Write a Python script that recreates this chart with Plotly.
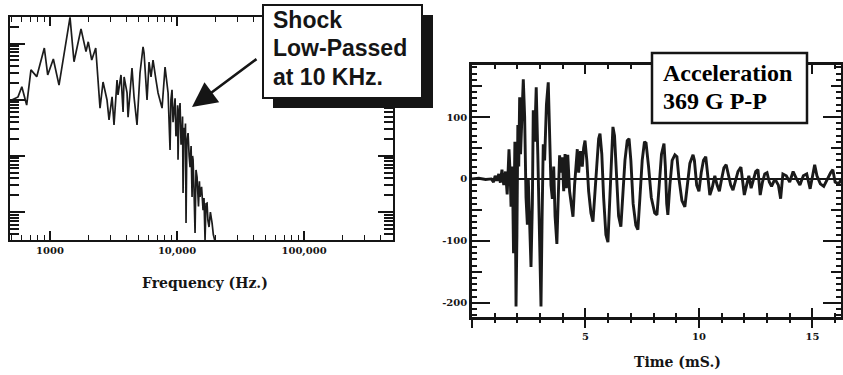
import plotly.graph_objects as go

# ---------------- data ----------------
# Left: shock spectrum (frequency in Hz, level in dB re 1)
freq_hz = [500, 560, 600, 655, 708, 786, 902, 959, 1062, 1177, 1437, 1545, 1754, 1920,
           2000, 2130, 2290, 2476, 2615, 2810, 2915, 3080, 3190, 3370, 3430, 3620, 3760,
           3830, 4040, 4115, 4420, 4585, 4840, 5110, 5400, 5500, 5805, 6020, 6240, 6470,
           6830, 7090, 7620, 8045, 8500, 8810, 8950, 9130, 9300, 9470, 9650, 9800, 10000,
           10100, 10180, 10350, 10560, 10750, 10950, 11050, 11150, 11350, 11560, 11650,
           11770, 11950, 12210, 12450, 12660, 12900, 13130, 13250, 13370, 13600, 13860,
           14100, 14370, 14750, 15000, 15180, 15600, 16020, 16300, 16610, 16900, 17230,
           17500, 17860, 18300, 18870, 19300, 19920, 21000]
level_db = [-20.1, -19.0, -15.4, -21.9, -9.4, -11.8, -1.6, -11.2, -5.5, -14.8, 9.3, -6.5,
            5.2, -2.9, 0.6, -5.9, -1.6, -23.0, -13.7, -20.1, -27.2, -19.0, -29.0, -13.0,
            -18.3, -11.2, -24.4, -11.9, -17.6, -26.2, -8.7, -19.0, -29.0, -10.5, -1.2,
            -3.4, -20.1, -6.6, -11.9, -5.9, -13.0, -17.6, -23.0, -8.4, -17.6, -37.9, -20.0,
            -16.5, -28.0, -23.7, -19.5, -33.0, -30.8, -22.0, -41.4, -25.0, -21.2, -36.0,
            -31.9, -26.0, -53.2, -30.0, -33.3, -28.5, -63.9, -35.0, -31.9, -40.0, -44.0,
            -36.5, -54.6, -40.0, -41.4, -52.0, -67.4, -45.0, -47.5, -58.0, -49.0, -54.6,
            -51.0, -59.3, -55.0, -70.0, -57.0, -56.8, -63.0, -65.3, -60.0, -63.9, -68.0,
            -70.5, -76.0]
spec_level = [10 ** (d / 20.0) for d in level_db]

# Right: acceleration time history (ms, g)
time_ms = [0.00, 0.30, 0.60, 0.85, 0.95, 1.02, 1.10, 1.18, 1.25, 1.32, 1.40, 1.48, 1.55,
           1.63, 1.68, 1.72, 1.78, 1.83, 1.89, 1.94, 1.98, 2.02, 2.06, 2.10, 2.14, 2.20,
           2.26, 2.32, 2.38, 2.44, 2.48, 2.53, 2.60, 2.66, 2.70, 2.76, 2.83, 2.90, 2.95,
           3.00, 3.04, 3.09, 3.14, 3.20, 3.28, 3.36, 3.42, 3.48, 3.54, 3.60, 3.66, 3.74,
           3.80, 3.86, 3.92, 3.98, 4.04, 4.10, 4.16, 4.22, 4.30, 4.38, 4.45, 4.52, 4.58,
           4.64, 4.70, 4.78, 4.86, 4.92, 4.98, 5.06, 5.14, 5.24, 5.33, 5.42, 5.50, 5.58,
           5.64, 5.72, 5.80, 5.90, 5.99, 6.07, 6.14, 6.21, 6.28, 6.36, 6.46, 6.56, 6.64,
           6.74, 6.84, 6.92, 7.00, 7.10, 7.22, 7.31, 7.40, 7.50, 7.60, 7.67, 7.78, 7.90,
           8.05, 8.15, 8.25, 8.35, 8.46, 8.52, 8.58, 8.63, 8.72, 8.82, 8.94, 9.03, 9.12,
           9.25, 9.38, 9.48, 9.60, 9.74, 9.80, 9.90, 10.00, 10.10, 10.20, 10.30, 10.38,
           10.48, 10.58, 10.70, 10.80, 10.90, 11.00, 11.10, 11.20, 11.30, 11.40, 11.50,
           11.60, 11.72, 11.85, 11.92, 12.00, 12.10, 12.20, 12.30, 12.40, 12.50, 12.60,
           12.70, 12.80, 12.90, 13.00, 13.10, 13.20, 13.35, 13.50, 13.60, 13.70, 13.85,
           14.00, 14.15, 14.30, 14.45, 14.60, 14.75, 14.90, 15.00, 15.10, 15.20, 15.35,
           15.50, 15.65, 15.80, 15.90, 16.00, 16.15, 16.30]
accel_g = [0, 1, -1, 0, -5, 5, -3, 8, -6, 15, -10, 12, -25,
           48, 10, -45, 20, -120, 60, -206, -90, 87, 20, 132, 40, 120,
           161, 100, -30, -74, 0, -60, -142, -40, 111, 60, 148, 40, -60,
           -150, -206, -60, 56, 30, 120, 156, 60, -10, -32, 20, -60, -105,
           -30, 38, 10, 35, -20, 40, -15, 39, -20, -40, -61, -10, 30,
           48, 10, 45, 20, 50, 62, 30, -20, -55, -69, -20, 30, 65,
           73, 40, -30, -90, -102, -40, 40, 84, 70, 10, -60, -77, -30,
           30, 62, 65, 30, -40, -75, -82, -30, 30, 60, 58, 20, -30,
           -55, -58, -10, 40, 57, 20, -40, -58, -10, 30, 39, 36, 0,
           -35, -45, -10, 25, 39, 30, -10, -20, 10, 30, 36, 10,
           -26, -15, 5, -10, -20, 0, 18, 23, 5, -10, -18,
           -5, 12, 19, 0, -26, -10, 5, -15, 0, 12, 15,
           -26, -5, 8, 10, -5, -12, 0, -10, -32, 8, 5,
           -5, 12, 0, -10, 5, 8, -16, 5, 23, 5, -8,
           -12, 0, 10, 15, -5, -8, 0]

freq_tick_alias = {"1,000": "1000"}
time_tick_alias = {"0": ""}
accel_tickvals = [-200, -100, 0, 100]
accel_ticktext = ["-200", "-100", "0", "100"]

# ---------------- layout helpers (pixel -> paper) ----------------
W, H = 843, 375


def px(x):
    return x / W


def py(y):
    return 1 - y / H


INK = "#151515"
SERIF = "DejaVu Serif"
SANS = "Liberation Sans"
TIMES = "Liberation Serif"

fig = go.Figure()

fig.add_trace(go.Scatter(x=freq_hz, y=spec_level, mode="lines",
                         line=dict(color="#1c1c1c", width=1.7),
                         xaxis="x", yaxis="y", showlegend=False, hoverinfo="skip"))
fig.add_trace(go.Scatter(x=time_ms, y=accel_g, mode="lines",
                         line=dict(color="#1a1a1a", width=2.9),
                         xaxis="x2", yaxis="y2", showlegend=False, hoverinfo="skip"))
# empty traces to register the overlay axes
fig.add_trace(go.Scatter(x=[None], y=[None], xaxis="x3", yaxis="y2", showlegend=False))
fig.add_trace(go.Scatter(x=[None], y=[None], xaxis="x2", yaxis="y3", showlegend=False))

tickfont = dict(family=SERIF, size=10, color=INK, weight="bold")

fig.update_layout(
    width=W, height=H,
    margin=dict(l=0, r=0, t=0, b=0),
    paper_bgcolor="white", plot_bgcolor="white",
    showlegend=False,
    # ---- left: spectrum ----
    xaxis=dict(domain=[px(10), px(393)], anchor="y", type="log",
               range=[2.685, 5.70], dtick=1, tickformat=",d", labelalias=freq_tick_alias,
               ticks="inside", ticklen=9, tickwidth=1.5, tickcolor=INK,
               minor=dict(dtick="D1", ticks="inside", ticklen=5, tickwidth=1.3,
                          tickcolor=INK, showgrid=False),
               showline=True, linewidth=2, linecolor=INK, mirror="ticks",
               showgrid=False, zeroline=False, tickfont=tickfont),
    yaxis=dict(domain=[py(240), py(17)], anchor="x", type="log",
               range=[-3.4964, 0.4715], dtick=1,
               ticks="inside", ticklen=15, tickwidth=1.8, tickcolor=INK,
               minor=dict(dtick="D1", ticks="inside", ticklen=9, tickwidth=1.5,
                          tickcolor=INK, showgrid=False),
               showticklabels=False,
               showline=True, linewidth=2, linecolor=INK, mirror="ticks",
               showgrid=False, zeroline=False),
    # ---- right: acceleration ----
    xaxis2=dict(domain=[px(472), px(841)], anchor="y2", range=[0, 16.26],
                tick0=0, dtick=5, labelalias=time_tick_alias,
                ticks="outside", ticklen=8, tickwidth=2, tickcolor=INK,
                minor=dict(dtick=1, ticks="outside", ticklen=3, tickwidth=2, tickcolor=INK),
                showline=True, linewidth=2.5, linecolor=INK, mirror=True,
                showgrid=False, zeroline=False, tickfont=tickfont),
    xaxis3=dict(overlaying="x2", anchor="y2", range=[0, 16.26],
                tick0=0, dtick=5, ticks="inside", ticklen=9, tickwidth=2, tickcolor=INK,
                minor=dict(dtick=1, ticks="inside", ticklen=4, tickwidth=2, tickcolor=INK),
                showticklabels=False, showline=True, linewidth=2.5, linecolor=INK,
                mirror="ticks", showgrid=False, zeroline=False),
    yaxis2=dict(domain=[py(317), py(65)], anchor="x2", range=[-223, 184],
                tickmode="array", tickvals=accel_tickvals, ticktext=accel_ticktext,
                ticks="inside", ticklen=18, tickwidth=2.2, tickcolor=INK,
                minor=dict(tickmode="linear", tick0=0, dtick=10, ticks="inside", ticklen=5,
                           tickwidth=1.8, tickcolor=INK),
                showline=True, linewidth=2.5, linecolor=INK, mirror="ticks",
                showgrid=False, zeroline=True, zerolinecolor=INK, zerolinewidth=2.2,
                tickfont=tickfont),
    yaxis3=dict(overlaying="y2", anchor="x2", range=[-223, 184],
                tickmode="array", tickvals=[-150, -50, 50, 150],
                ticks="inside", ticklen=10, tickwidth=2, tickcolor=INK,
                showticklabels=False, showline=False, mirror="ticks",
                showgrid=False, zeroline=False),
)

shapes = [
    # shadow of "Shock" box
    dict(type="rect", xref="paper", yref="paper", x0=px(273), x1=px(433), y0=py(108), y1=py(15),
         fillcolor=INK, line=dict(width=0), layer="above"),
    dict(type="rect", xref="paper", yref="paper", x0=px(263), x1=px(422), y0=py(98), y1=py(5),
         fillcolor="white", line=dict(color=INK, width=2), layer="above"),
    # Acceleration box
    dict(type="rect", xref="paper", yref="paper", x0=px(652), x1=px(807), y0=py(123), y1=py(53),
         fillcolor="white", line=dict(color=INK, width=2.5), layer="above"),
]
fig.update_layout(shapes=shapes)

ann = []
for txt, yc in [("Shock", 20), ("Low-Passed", 48), ("at 10 KHz.", 77)]:
    ann.append(dict(text=txt, x=px(271), y=py(yc), xref="paper", yref="paper",
                    xanchor="left", yanchor="middle", showarrow=False,
                    font=dict(family=SANS, size=23, color=INK, weight="bold")))
for txt, yc in [("Acceleration", 73), ("369 G P-P", 101)]:
    ann.append(dict(text=txt, x=px(661), y=py(yc), xref="paper", yref="paper",
                    xanchor="left", yanchor="middle", showarrow=False,
                    font=dict(family=TIMES, size=24, color="black", weight="bold")))
ann.append(dict(text="Frequency (Hz.)", x=px(205), y=py(283), xref="paper", yref="paper",
                xanchor="center", yanchor="middle", showarrow=False,
                font=dict(family=SERIF, size=14, color=INK, weight="bold")))
ann.append(dict(text="Time (mS.)", x=px(677), y=py(362), xref="paper", yref="paper",
                xanchor="center", yanchor="middle", showarrow=False,
                font=dict(family=SERIF, size=14, color=INK, weight="bold")))
# arrow pointing at the roll-off
ann.append(dict(text="", x=px(192), y=py(107), xref="paper", yref="paper",
                ax=66, ay=-49, showarrow=True, arrowhead=2, arrowsize=1.9,
                arrowwidth=2.6, arrowcolor=INK, standoff=0))
fig.update_layout(annotations=ann)

fig.write_html("out.html", config={"displayModeBar": False},
               post_script="document.body.style.margin='0';document.body.style.overflow='hidden';")
